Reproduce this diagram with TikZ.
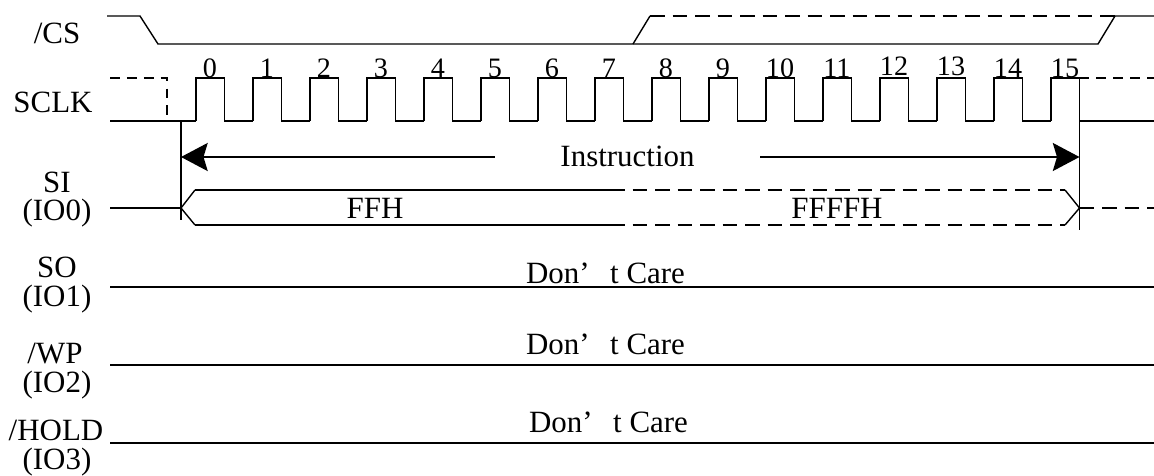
\documentclass[tikz,border=0pt]{standalone}
\usepackage{fontspec}
\setmainfont{Liberation Serif}
\usepackage{tikz}
\usetikzlibrary{arrows.meta}

\tikzset{
  sig/.style={line width=1pt},
  longdash/.style={dash pattern=on 10.5pt off 5.5pt},
  shortdash/.style={dash pattern=on 7pt off 5pt},
  lbl/.style={font=\fontsize{22}{24}\selectfont, inner sep=0pt, anchor=base},
  num/.style={font=\fontsize{20}{22}\selectfont, inner sep=0pt, anchor=base},
  bigtip/.style={-{Stealth[length=19pt,width=20pt,inset=3pt]}}
}

\begin{document}
\begin{tikzpicture}[x=0.025cm,y=-0.025cm]
\useasboundingbox (0,0) rectangle (1154,475);

\node[lbl] (cs) at (57,43) {/CS};
\node[lbl] (sclk) at (53,112) {SCLK};
\node[lbl] (si) at (57,192) {SI};
\node[lbl] (io0) at (57,220) {(IO0)};
\node[lbl] (so) at (57,277) {SO};
\node[lbl] (io1) at (57,306) {(IO1)};
\node[lbl] (wp) at (55,363) {/WP};
\node[lbl] (io2) at (57,392) {(IO2)};
\node[lbl] (hold) at (56,440) {/HOLD};
\node[lbl] (io3) at (57,469) {(IO3)};

\draw[sig] (107,16) -- (140,16) -- (158,44) -- (1098,44) -- (1115,16) -- (1154,16);
\draw[sig] (633,44) -- (650,16);
\draw[sig,longdash] (650,16) -- (1115,16);

\draw[sig,shortdash] (110,78) -- (167,78) -- (167,121);
\draw[sig] (110,121) -- (196,121);
\draw[sig] (196,121) |- (224.5,78) |- (253,121);
\draw[sig] (253,121) |- (281.5,78) |- (310,121);
\draw[sig] (310,121) |- (338.5,78) |- (367,121);
\draw[sig] (367,121) |- (395.5,78) |- (424,121);
\draw[sig] (424,121) |- (452.5,78) |- (481,121);
\draw[sig] (481,121) |- (509.5,78) |- (538,121);
\draw[sig] (538,121) |- (566.5,78) |- (595,121);
\draw[sig] (595,121) |- (623.5,78) |- (652,121);
\draw[sig] (652,121) |- (680.5,78) |- (709,121);
\draw[sig] (709,121) |- (737.5,78) |- (766,121);
\draw[sig] (766,121) |- (794.5,78) |- (823,121);
\draw[sig] (823,121) |- (851.5,78) |- (880,121);
\draw[sig] (880,121) |- (908.5,78) |- (937,121);
\draw[sig] (937,121) |- (965.5,78) |- (994,121);
\draw[sig] (994,121) |- (1022.5,78) |- (1051,121);
\draw[sig] (1051,121) |- (1079.5,78) |- (1154,121);
\draw[sig,shortdash] (1079.5,78) -- (1154,78);

\node[num] (n0) at (210,77) {0};
\node[num] (n1) at (267,77) {1};
\node[num] (n2) at (324,77) {2};
\node[num] (n3) at (381,77) {3};
\node[num] (n4) at (438,77) {4};
\node[num] (n5) at (495,77) {5};
\node[num] (n6) at (552,77) {6};
\node[num] (n7) at (609,77) {7};
\node[num] (n8) at (666,77) {8};
\node[num] (n9) at (723,77) {9};
\node[num] (n10) at (780,77) {10};
\node[num] (n11) at (837,77) {11};
\node[num] (n12) at (894,75) {12};
\node[num] (n13) at (951,75) {13};
\node[num] (n14) at (1008,77) {14};
\node[num] (n15) at (1065,77) {15};

\coordinate (il) at (181,157);
\coordinate (ir) at (1079.5,157);
\draw[sig] (181,121) -- (181,220);
\draw[sig] (1079.5,78) -- (1079.5,230);
\node[lbl, minimum width=6.625cm] (ins) at (627.5,166) {Instruction};
\draw[sig,bigtip] (ins.west |- il) -- (il);
\draw[sig,bigtip] (ins.east |- ir) -- (ir);

\draw[sig] (110,208) -- (181,208);
\draw[sig] (195,190) -- (181,208) -- (195,225);
\draw[sig] (195,190) -- (610,190);
\draw[sig] (195,225) -- (610,225);
\draw[sig,longdash] (610,190) -- (1065,190);
\draw[sig,longdash] (610,225) -- (1065,225);
\draw[sig] (1065,190) -- (1079.5,208) -- (1065,225);
\draw[sig,longdash] (1079.5,208) -- (1154,208);
\node[lbl] (ffh) at (375,218) {FFH};
\node[lbl] (ffffh) at (837,218) {FFFFH};

\draw[sig] (110,287) -- (1154,287);
\draw[sig] (110,365) -- (1154,365);
\draw[sig] (110,443) -- (1154,443);
\node[lbl] (dc1) at (605.5,283) {Don\makebox[1em][l]{’}t Care};
\node[lbl] (dc2) at (605.5,354) {Don\makebox[1em][l]{’}t Care};
\node[lbl] (dc3) at (608.5,432) {Don\makebox[1em][l]{’}t Care};
\end{tikzpicture}
\end{document}
